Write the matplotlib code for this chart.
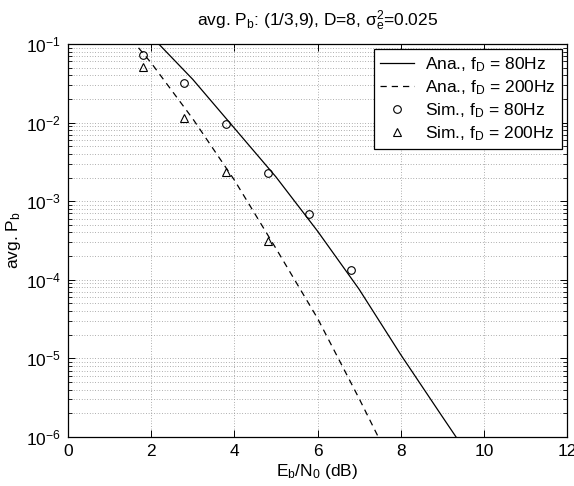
import matplotlib
matplotlib.use("Agg")
import matplotlib.pyplot as plt
from matplotlib.ticker import LogLocator, FixedLocator, NullFormatter

# ---- data ----
ebn0_ana = [1, 2, 3, 4, 5, 6, 7, 8, 9, 10]
pb_ana_80 = [0.447, 0.126, 0.0355, 0.00851, 0.00204, 4.17e-4, 7.59e-5, 1.12e-5, 1.82e-6, 3.0e-7]
ebn0_ana200 = [1, 2, 3, 4, 5, 6, 7, 8]
pb_ana_200 = [0.245, 0.0575, 0.0112, 0.00186, 2.51e-4, 3.24e-5, 3.09e-6, 2.69e-7]
ebn0_sim80 = [1.8, 2.8, 3.8, 4.8, 5.8, 6.8]
pb_sim_80 = [0.0717, 0.0319, 0.00955, 0.0023, 0.000697, 1.34e-4]
ebn0_sim200 = [1.8, 2.8, 3.8, 4.8]
pb_sim_200 = [0.0503, 0.0116, 0.00232, 3.15e-4]
labels = [r"Ana., f$_D$ = 80Hz", r"Ana., f$_D$ = 200Hz",
          r"Sim., f$_D$ = 80Hz", r"Sim., f$_D$ = 200Hz"]
xticks = [0, 2, 4, 6, 8, 10, 12]

plt.rcParams['font.family'] = ['Liberation Sans', 'DejaVu Sans']
plt.rcParams['mathtext.fontset'] = 'custom'
plt.rcParams['mathtext.rm'] = 'Liberation Sans'
plt.rcParams['mathtext.it'] = 'Liberation Sans'
plt.rcParams['mathtext.default'] = 'regular'
fs = 12.5

fig = plt.figure(figsize=(5.74, 4.86), dpi=100)
ax = fig.add_axes([68/574, 1-437/486, (567-68)/574, (437-44)/486])

ax.plot(ebn0_ana, pb_ana_80, '-', color='k', lw=0.9, label=labels[0])
ax.plot(ebn0_ana200, pb_ana_200, color='k', lw=0.9, ls=(0, (5, 4)), label=labels[1])
ax.plot(ebn0_sim80, pb_sim_80, 'o', color='k', mfc='none', ms=5.5, mew=0.8, label=labels[2])
ax.plot(ebn0_sim200, pb_sim_200, '^', color='k', mfc='none', ms=5.5, mew=0.8, label=labels[3])

ax.set_yscale('log')
ax.set_xlim(0, 12)
ax.set_ylim(1e-6, 1e-1)
ax.xaxis.set_major_locator(FixedLocator(xticks))
ax.yaxis.set_major_locator(LogLocator(base=10, numticks=20))
ax.yaxis.set_minor_locator(LogLocator(base=10, subs=range(2, 10), numticks=20))
ax.yaxis.set_minor_formatter(NullFormatter())

gkw = dict(color='0.5', ls=(0, (1, 2.5)), lw=0.55)
ax.grid(True, which='major', axis='both', **gkw)
ax.grid(True, which='minor', axis='y', **gkw)
ax.set_axisbelow(True)

ax.tick_params(which='both', direction='in', top=True, right=True, labelsize=fs, colors='k')
ax.tick_params(which='major', length=5, width=0.7, pad=5)
ax.tick_params(which='minor', length=3, width=0.6)
for s in ax.spines.values():
    s.set_linewidth(0.9)

ax.set_xlabel(r"E$_b$/N$_0$ (dB)", fontsize=fs, labelpad=2)
ax.set_ylabel(r"avg. P$_b$", fontsize=fs, labelpad=2)
ax.set_title(r"avg. P$_b$: (1/3,9), D=8, $\sigma_e^2$=0.025", fontsize=fs, pad=13)

leg = ax.legend(loc='upper right', fontsize=fs, frameon=True, fancybox=False,
                framealpha=1, edgecolor='k', handlelength=2.0, handletextpad=0.6,
                borderaxespad=0.3, borderpad=0.35, labelspacing=0.25)
leg.get_frame().set_linewidth(0.9)

fig.savefig('out.png', dpi=100)
